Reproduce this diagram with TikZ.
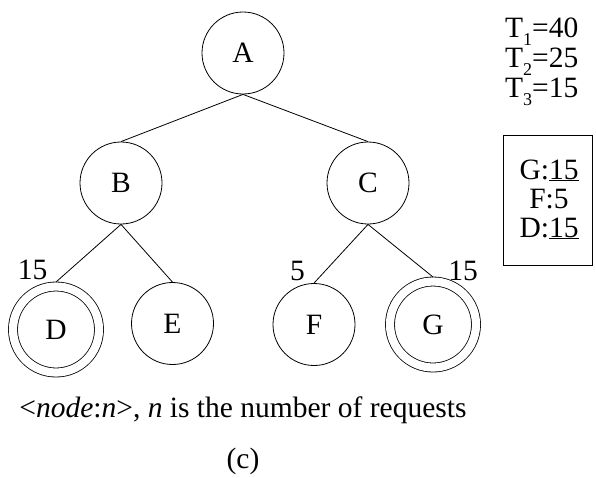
\documentclass[tikz,border=0pt]{standalone}
\usepackage{fontspec}
\setmainfont{Liberation Serif}
\newcommand{\lowsub}[1]{\raisebox{-8pt}{\fontsize{18}{18}\selectfont #1}}
\begin{document}
\begin{tikzpicture}[x=1pt,y=-1pt,
  every node/.style={font=\fontsize{29.5}{34}\selectfont},
  vertex/.style={circle,draw,line width=0.8pt,minimum size=82pt,inner sep=0pt},
  marked/.style={vertex,double,double distance=8.2pt,minimum size=86pt,outer sep=4.5pt},
  edge/.style={line width=0.8pt},
  count/.style={inner sep=0pt,anchor=base}]
\useasboundingbox (0,0) rectangle (596,477);
% tree
\node[vertex] (A) at (243,53) {A};
\node[vertex] (B) at (121,183) {B};
\node[vertex] (C) at (368,183) {C};
\node[marked] (D) at (56,329.5) {D};
\node[vertex] (E) at (172.5,323.5) {E};
\node[vertex] (F) at (314,324.5) {F};
\node[marked] (G) at (433,324.5) {G};
\draw[edge] (A.south) -- (B.north);
\draw[edge] (A.south) -- (C.north);
\draw[edge] (B.south) -- (D.north);
\draw[edge] (B.south) -- (E.north);
\draw[edge] (C.south) -- (F.north);
\draw[edge] (C.south) -- (G.north);
% request counts
\node[count] (nD) at (32.5,279) {15};
\node[count] (nF) at (297.5,280) {5};
\node[count] (nG) at (463,280) {15};
% thresholds
\node[count,anchor=base west] (t1) at (505,37) {T\lowsub{1}=40};
\node[count,anchor=base west] (t2) at (505,67) {T\lowsub{2}=25};
\node[count,anchor=base west] (t3) at (505,97) {T\lowsub{3}=15};
% cache contents
\draw[line width=0.8pt] (503,135.5) rectangle (592,265.5);
\node[count] (cG) at (549,179) {G:\underline{15}};
\node[count] (cF) at (549,208) {F:5};
\node[count] (cD) at (549,237) {D:\underline{15}};
% captions
\node[count] (legend) at (243,417) {<\textit{node}:\textit{n}>, \textit{n} is the number of requests};
\node[inner sep=0pt] (cap) at (243,461) {(c)};
\end{tikzpicture}
\end{document}
